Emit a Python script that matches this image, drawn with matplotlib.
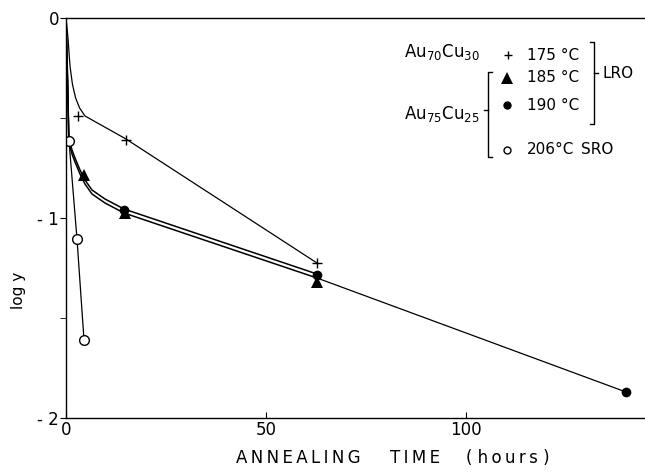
import matplotlib
matplotlib.use("Agg")
import matplotlib.pyplot as plt
import numpy as np

plt.rcParams['font.family'] = ['DejaVu Sans']

# measured points (annealing time in hours, log y)
t175 = [3.0, 15.0, 62.75]
y175 = [-0.49, -0.61, -1.225]
t185 = [4.5, 14.75, 62.75]
y185 = [-0.785, -0.975, -1.32]
t190 = [14.5, 62.75, 140.0]
y190 = [-0.96, -1.285, -1.87]
t206 = [0.75, 2.75, 4.5]
y206 = [-0.615, -1.105, -1.61]

# hand drawn curves through the points
c175_t = [0, 0.5, 1.0, 1.6, 2.4, 3.4, 4.75, 15.0, 62.75]
c175_y = [0, -0.10, -0.24, -0.33, -0.40, -0.45, -0.49, -0.605, -1.225]
cLRO_t = [0, 0.4, 0.7, 1.5, 2.25, 3.5, 4.75, 6.5, 9.75, 14.5, 62.75]
cLRO_y = [0, -0.3, -0.6, -0.66, -0.70, -0.76, -0.81, -0.86, -0.905, -0.955, -1.28]
gap = 0.02
tail_t = [62.75, 140.0]
tail_y = [-1.30, -1.87]
c206_t = [0] + t206
c206_y = [0] + y206

fig = plt.figure(figsize=(6.45, 4.72), dpi=100)
ax = fig.add_axes([66/645, 54/472, 579/645, 400/472])

lw = 0.9
ax.plot(c175_t, c175_y, color='black', lw=lw)
ax.plot(cLRO_t, cLRO_y, color='black', lw=1.1)
ax.plot(cLRO_t, np.array(cLRO_y) - gap, color='black', lw=1.1)
ax.plot(tail_t, tail_y, color='black', lw=lw)
ax.plot(c206_t, c206_y, color='black', lw=lw)

ax.plot(t175, y175, '+', color='black', ms=7, mew=1.0)
ax.plot(t185, y185, '^', color='black', ms=8, mew=0)
ax.plot(t190, y190, 'o', color='black', ms=7, mew=0)
ax.plot(t206, y206, 'o', mfc='white', mec='black', ms=7, mew=1.0)

ax.set_xlim(0, 144.75)
ax.set_ylim(-2, 0)
ax.spines['right'].set_visible(False)
for s in ['left', 'bottom', 'top']:
    ax.spines[s].set_linewidth(1.0)

ax.set_xticks([0, 50, 100])
ax.set_xticklabels(['0', '50', '100'])
ax.set_yticks([-2, -1, 0])
ax.set_yticklabels(['- 2', '- 1', '0'])
ax.set_yticks([-1.5, -0.5], minor=True)
ax.tick_params(axis='x', direction='in', length=4, labelsize=12, pad=2)
ax.tick_params(axis='y', direction='out', length=4, labelsize=12, pad=1)
ax.tick_params(axis='y', which='minor', direction='out', length=4)

# spaced lettering of the axis title
sp = '\u2009'
fig.text(298/645, 1 - 458/472, sp.join('ANNEALING'), fontsize=12, ha='center', va='center')
fig.text(415/645, 1 - 458/472, sp.join('TIME'), fontsize=12, ha='center', va='center')
fig.text(508/645, 1 - 458/472, '( ' + sp.join('hours') + ' )', fontsize=12, ha='center', va='center')
fig.text(18/645, 1 - 290/472, 'log y', fontsize=11, rotation=90, ha='center', va='center')


# key, placed in axes fraction
def fx(px):
    return (px - 66) / 579


def fy(py):
    return (418 - py) / 400


tr = ax.transAxes
kw = dict(transform=tr, fontsize=11, va='center', ha='left')
ax.text(fx(404), fy(52), r'Au$_{70}$Cu$_{30}$', fontsize=12, transform=tr, va='center', ha='left')
ax.text(fx(404), fy(114), r'Au$_{75}$Cu$_{25}$', fontsize=12, transform=tr, va='center', ha='left')

ax.plot([fx(508)], [fy(55)], '+', color='black', ms=6, mew=1.0, transform=tr, clip_on=False)
ax.plot([fx(507)], [fy(78)], '^', color='black', ms=8, mew=0, transform=tr, clip_on=False)
ax.plot([fx(507)], [fy(105)], 'o', color='black', ms=6, mew=0, transform=tr, clip_on=False)
ax.plot([fx(507)], [fy(150)], 'o', mfc='white', mec='black', ms=5, mew=1.0, transform=tr, clip_on=False)

ax.text(fx(527), fy(55), '175 °C', **kw)
ax.text(fx(527), fy(78), '185 °C', **kw)
ax.text(fx(527), fy(105), '190 °C', **kw)
ax.text(fx(527), fy(150), '206°C', **kw)
ax.text(fx(581), fy(150), 'SRO', **kw)
ax.text(fx(602), fy(74), 'LRO', **kw)

# right bracket grouping the LRO temperatures
ax.plot([fx(590), fx(594), fx(594), fx(590)], [fy(42), fy(42), fy(124), fy(124)],
        color='black', lw=1.0, transform=tr, clip_on=False)
ax.plot([fx(594), fx(598)], [fy(73), fy(73)], color='black', lw=1.0, transform=tr, clip_on=False)
# left brace for the Au75Cu25 alloy
ax.plot([fx(492), fx(488), fx(488), fx(492)], [fy(72), fy(72), fy(157), fy(157)],
        color='black', lw=1.0, transform=tr, clip_on=False)
ax.plot([fx(488), fx(484)], [fy(110), fy(110)], color='black', lw=1.0, transform=tr, clip_on=False)

fig.savefig('out.png', dpi=100)
